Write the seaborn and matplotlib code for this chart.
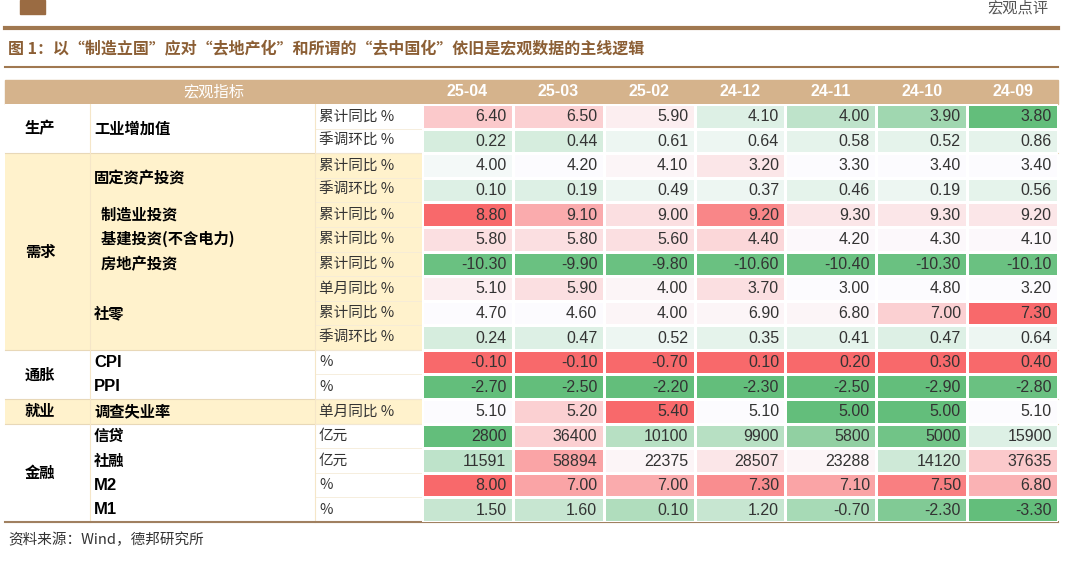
import numpy as np
import matplotlib.pyplot as plt
import seaborn as sns
from matplotlib.colors import LinearSegmentedColormap
from matplotlib.patches import Rectangle

plt.rcParams["font.family"] = ["Noto Sans CJK SC"]

months = ["25-04", "25-03", "25-02", "24-12", "24-11", "24-10", "24-09"]
groups = [("生产", 0, 2), ("需求", 2, 10), ("通胀", 10, 12), ("就业", 12, 13), ("金融", 13, 17)]
indicators = [("工业增加值", 0, 2), ("固定资产投资", 2, 4), ("  制造业投资", 4, 5),
              ("  基建投资(不含电力)", 5, 6), ("  房地产投资", 6, 7), ("社零", 7, 10),
              ("CPI", 10, 11), ("PPI", 11, 12), ("调查失业率", 12, 13), ("信贷", 13, 14),
              ("社融", 14, 15), ("M2", 15, 16), ("M1", 16, 17)]
units = ["累计同比 %", "季调环比 %", "累计同比 %", "季调环比 %", "累计同比 %", "累计同比 %",
         "累计同比 %", "单月同比 %", "累计同比 %", "季调环比 %", "%", "%", "单月同比 %",
         "亿元", "亿元", "%", "%"]
values = np.array([
    [6.40, 6.50, 5.90, 4.10, 4.00, 3.90, 3.80],
    [0.22, 0.44, 0.61, 0.64, 0.58, 0.52, 0.86],
    [4.00, 4.20, 4.10, 3.20, 3.30, 3.40, 3.40],
    [0.10, 0.19, 0.49, 0.37, 0.46, 0.19, 0.56],
    [8.80, 9.10, 9.00, 9.20, 9.30, 9.30, 9.20],
    [5.80, 5.80, 5.60, 4.40, 4.20, 4.30, 4.10],
    [-10.30, -9.90, -9.80, -10.60, -10.40, -10.30, -10.10],
    [5.10, 5.90, 4.00, 3.70, 3.00, 4.80, 3.20],
    [4.70, 4.60, 4.00, 6.90, 6.80, 7.00, 7.30],
    [0.24, 0.47, 0.52, 0.35, 0.41, 0.47, 0.64],
    [-0.10, -0.10, -0.70, 0.10, 0.20, 0.30, 0.40],
    [-2.70, -2.50, -2.20, -2.30, -2.50, -2.90, -2.80],
    [5.10, 5.20, 5.40, 5.10, 5.00, 5.00, 5.10],
    [2800, 36400, 10100, 9900, 5800, 5000, 15900],
    [11591, 58894, 22375, 28507, 23288, 14120, 37635],
    [8.00, 7.00, 7.00, 7.30, 7.10, 7.50, 6.80],
    [1.50, 1.60, 0.10, 1.20, -0.70, -2.30, -3.30],
])
# colour shade: -1 green ... +1 red
shade = np.array([
    [.35, .3, .1, -.2, -.4, -.6, -1],
    [-.25, -.25, -.1, -.1, -.15, -.15, -.15],
    [-.05, 0, .05, .15, 0, 0, 0],
    [-.2, -.2, -.1, -.1, -.15, -.1, -.15],
    [1, .55, .2, .8, .15, .15, .15],
    [.2, .2, .2, .25, .03, .03, .03],
    [-.95, -.95, -.95, -.95, -.95, -.95, -.95],
    [.1, .2, .05, .2, 0, 0, 0],
    [0, 0, .05, .05, .05, .3, 1],
    [-.25, -.2, -.1, -.15, -.15, -.2, -.1],
    [1, 1, 1, 1, 1, 1, 1],
    [-1, -1, -1, -1, -1, -1, -.95],
    [0, .3, 1, 0, -1, -1, 0],
    [-1, .3, -.45, -.45, -.7, -.9, -.2],
    [-.4, .6, .05, .15, .05, -.3, .35],
    [1, .6, .55, .75, .6, .85, .5],
    [-.35, -.35, -.5, -.35, -.55, -.8, -1],
])

W, H = 1066, 562
fig = plt.figure(figsize=(W / 100, H / 100), dpi=100)
ax = fig.add_axes([0, 0, 1, 1])
ax.set_xlim(0, W)
ax.set_ylim(H, 0)
ax.axis("off")

brown = "#8B5E34"
tan = "#D5B38C"
cream = "#FFF2CC"
top, bottom = 104, 522
rh = (bottom - top) / len(units)
c0, c1, c2, c3, cend = 5, 90, 315, 422, 1058

# header
ax.add_patch(Rectangle((20, 0), 25, 14, color="#9A6B42"))
ax.plot([5, 1058], [28, 28], color="#A07850", lw=3)
ax.plot([5, 1058], [67, 67], color="#A07850", lw=1.5)
ax.text(1048, 8, "宏观点评", ha="right", va="center", fontsize=11, color="#555555")
ax.text(8, 48, "图 1：以“制造立国”应对“去地产化”和所谓的“去中国化”依旧是宏观数据的主线逻辑",
        fontsize=11.5, color=brown, fontweight="bold", va="center")
ax.add_patch(Rectangle((c0, 80), cend - c0, top - 80, color=tan))
ax.text((c0 + c3) / 2, 92, "宏观指标", ha="center", va="center", color="white", fontsize=11)

# row backgrounds for left columns
for name, a, b in groups:
    fc = cream if name in ("需求", "就业") else "white"
    ax.add_patch(Rectangle((c0, top + a * rh), c3 - c0, (b - a) * rh, fc=fc, ec="none"))
    ax.text(c0 + 20, top + (a + b) / 2 * rh, name, va="center", fontsize=11, fontweight="bold")
    ax.plot([c0, cend], [top + b * rh] * 2, color="#E8D8B8", lw=0.8)
for name, a, b in indicators:
    latin = name in ("CPI", "PPI", "M2", "M1")
    ax.text(c1 + 4, top + (a + b) / 2 * rh, name, va="center",
            fontsize=12 if latin else 11, fontweight="bold",
            family="Liberation Sans" if latin else "Noto Sans CJK SC")
for i, u in enumerate(units):
    ax.text(c2 + 4, top + (i + 0.5) * rh, u, va="center", fontsize=10.5, color="#333333")
    ax.plot([c2, c3], [top + (i + 1) * rh] * 2, color="#F5EBD8", lw=0.6)
for x in (c1, c2):
    ax.plot([x, x], [top, bottom], color="#F5E6C8", lw=0.8)
ax.plot([c0, cend], [bottom, bottom], color="#A08060", lw=1.5)
ax.text(8, 540, "资料来源：Wind，德邦研究所", va="center", fontsize=10.5, color="#333333")

# heatmap block
hax = fig.add_axes([c3 / W, 1 - bottom / H, (cend - c3) / W, (bottom - top) / H])
cmap = LinearSegmentedColormap.from_list("gwr", ["#63BE7B", "#FCFCFF", "#F8696B"])
sns.heatmap(shade, ax=hax, cmap=cmap, vmin=-1, vmax=1, cbar=False,
            linewidths=1, linecolor="white", xticklabels=False, yticklabels=False)
for i in range(values.shape[0]):
    for j in range(values.shape[1]):
        v = values[i, j]
        s = f"{v:.0f}" if units[i] == "亿元" else f"{v:.2f}"
        hax.text(j + 0.93, i + 0.52, s, ha="right", va="center", fontsize=11.5,
                 family="Liberation Sans", color="#333333")
for j, m in enumerate(months):
    ax.text(c3 + (j + 0.5) * (cend - c3) / 7, 92, m, ha="center", va="center",
            color="white", fontsize=11.5, fontweight="bold", family="Liberation Sans")

fig.savefig("out.png", dpi=100)
